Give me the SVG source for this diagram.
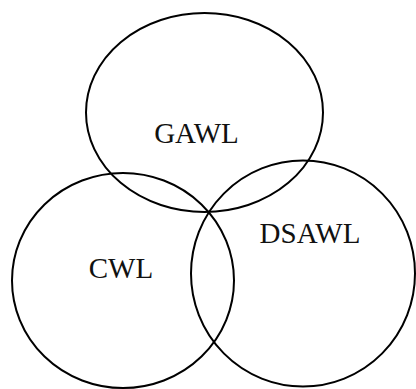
<svg xmlns="http://www.w3.org/2000/svg" width="416" height="389" viewBox="0 0 416 389">
<style>
.c{fill:none;stroke:#000;stroke-width:2}
.t{font-family:"Liberation Serif","Times New Roman",serif;font-size:29px;fill:#111;text-anchor:middle}
</style>
<rect width="416" height="389" fill="#fff"/>
<g id="gawl"><ellipse class="c" cx="204.5" cy="112.5" rx="118.5" ry="99.5"/><text class="t" x="196.5" y="143">GAWL</text></g>
<g id="cwl"><ellipse class="c" cx="123" cy="280.5" rx="111" ry="107.5"/><text class="t" x="121" y="278">CWL</text></g>
<g id="dsawl"><ellipse class="c" cx="303" cy="273.5" rx="112" ry="113"/><text class="t" x="310" y="243">DSAWL</text></g>
<g id="connectors"/>
</svg>
